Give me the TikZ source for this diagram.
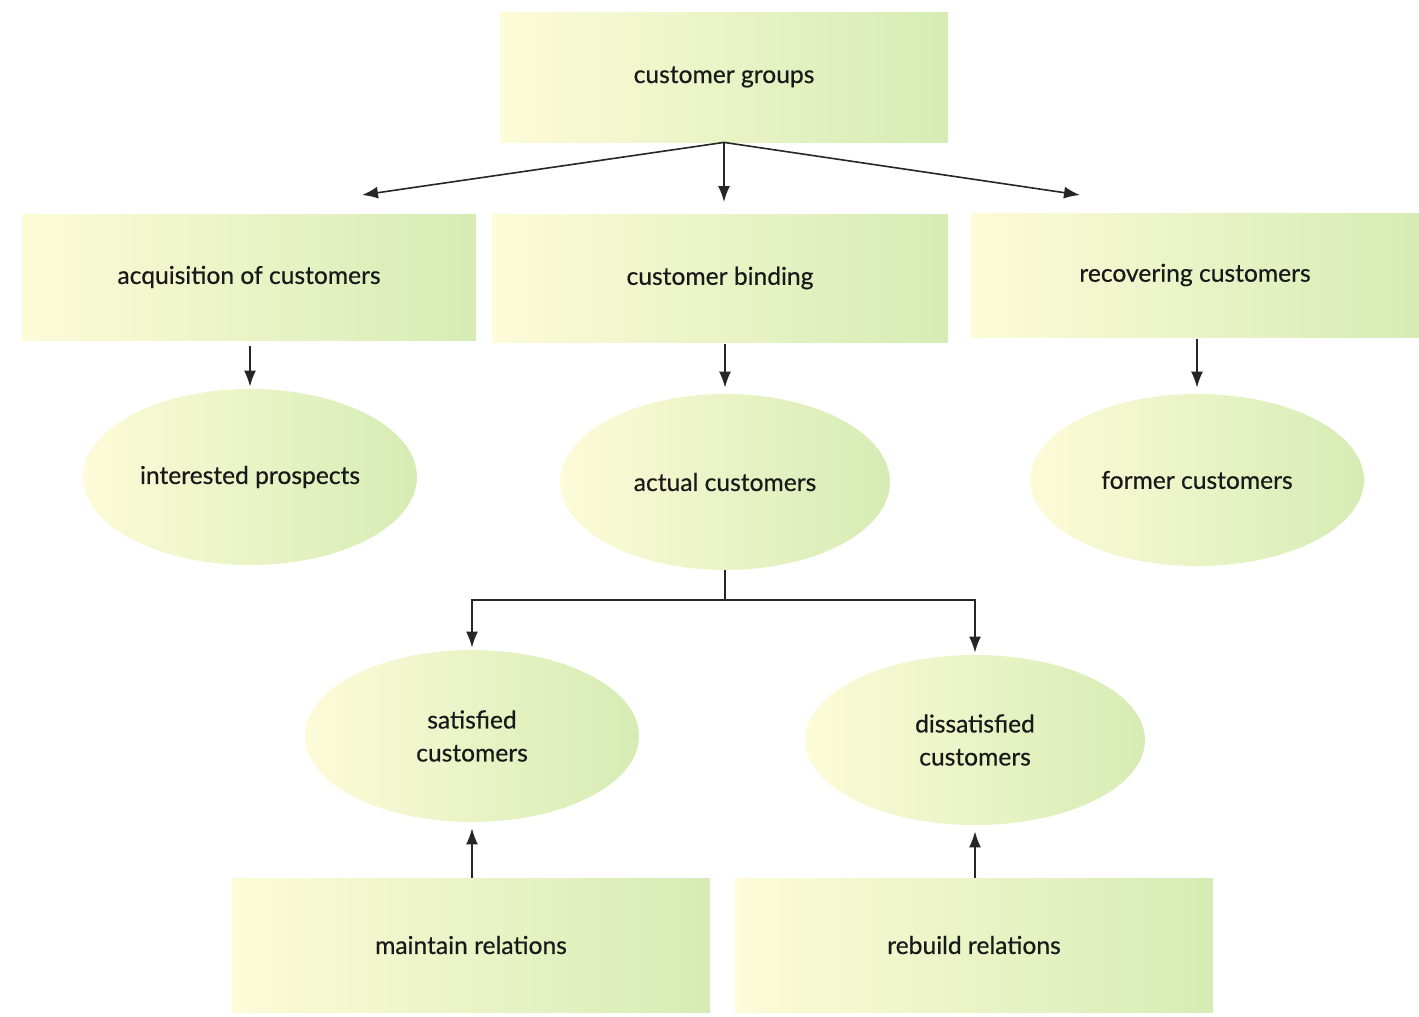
\documentclass[tikz,border=0pt]{standalone}
\usepackage{fontspec}
\setmainfont{Lato}[FakeBold=0.5]
\usetikzlibrary{shapes.geometric,arrows.meta}
\definecolor{paleyellow}{RGB}{253,251,216}
\definecolor{palegreen}{RGB}{214,236,180}
\begin{document}
\begin{tikzpicture}[x=0.5pt,y=-0.5pt,
  font=\fontsize{12.3}{16.5}\selectfont,
  card/.style={rectangle,left color=paleyellow,right color=palegreen,text=black!90,align=center,inner sep=0pt},
  blob/.style={ellipse,left color=paleyellow,right color=palegreen,text=black!90,align=center,inner sep=0pt},
  arr/.style={-{Latex[length=8pt,width=6pt]},line width=0.8pt,black!85}]
\useasboundingbox (0,0) rectangle (1419,1017);
\node[card,minimum width=224pt,minimum height=65pt] (grp) at (724,77) {customer groups};
\node[card,minimum width=227pt,minimum height=63pt] (acq) at (249,277) {acquisition of customers};
\node[card,minimum width=228pt,minimum height=64pt] (bind) at (720,278) {customer binding};
\node[card,minimum width=224pt,minimum height=62pt] (recov) at (1195,275) {recovering customers};
\node[blob,minimum width=167pt,minimum height=88pt] (intp) at (250,477) {interested prospects};
\node[blob,minimum width=165pt,minimum height=88pt] (act) at (725,482) {actual customers};
\node[blob,minimum width=167pt,minimum height=86pt] (form) at (1197,480) {former customers};
\node[blob,minimum width=167pt,minimum height=86pt] (sat) at (472,736) {satisfied\\customers};
\node[blob,minimum width=170pt,minimum height=85pt] (dsat) at (975,740) {dissatisfied\\customers};
\node[card,minimum width=239pt,minimum height=67pt] (maint) at (471,945) {maintain relations};
\node[card,minimum width=239pt,minimum height=67pt] (rebld) at (974,945) {rebuild relations};
\coordinate (tacq) at (362,195);
\coordinate (tbind) at (724,202);
\coordinate (trecov) at (1080,195);
\coordinate (fork) at (725,600);
\draw[arr] (grp.south) -- (tacq);
\draw[arr] (grp.south) -- (tbind);
\draw[arr] (grp.south) -- (trecov);
\draw[arr,shorten <=3pt,shorten >=1pt] (acq.south -| intp) -- (intp);
\draw[arr,shorten <=1pt,shorten >=3pt] (bind.south -| act) -- (act);
\draw[arr,shorten <=1pt,shorten >=3pt] (recov.south -| form) -- (form);
\draw[line width=0.8pt,black!85] (act.south) -- (fork);
\draw[arr,shorten >=1pt] (fork) -| (sat);
\draw[arr,shorten >=1pt] (fork) -| (dsat);
\draw[arr,shorten >=3pt] (maint.north -| sat) -- (sat);
\draw[arr,shorten >=3pt] (rebld.north -| dsat) -- (dsat);
\end{tikzpicture}
\end{document}
